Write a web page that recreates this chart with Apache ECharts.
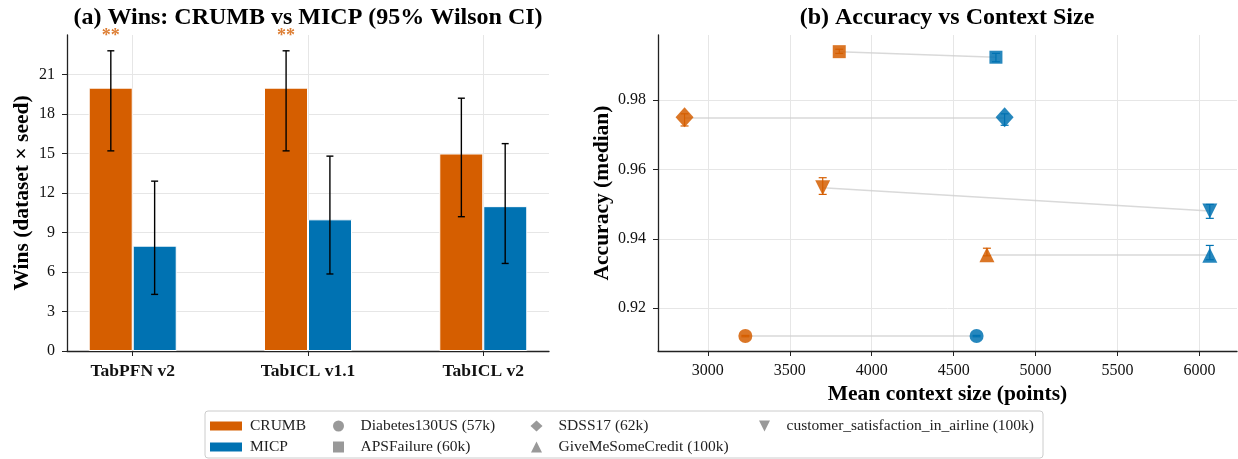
<!DOCTYPE html>
<html>
<head>
<meta charset="utf-8">
<script src="https://cdn.jsdelivr.net/npm/echarts@6/dist/echarts.min.js"></script>
<style>
  html, body { margin: 0; padding: 0; background: #fff; }
  #main { width: 1238px; height: 459px; }
</style>
</head>
<body>
<div id="main"></div>
<script>
// ---- panel (a): wins per model ----
var models = ['TabPFN v2', 'TabICL v1.1', 'TabICL v2'];
var crumbWins = [20, 20, 15];
var micpWins = [8, 10, 11];
var crumbLo = [15.2, 15.2, 10.2];
var crumbHi = [22.8, 22.8, 19.2];
var micpLo = [4.3, 5.85, 6.65];
var micpHi = [12.9, 14.8, 15.75];
var sigMarks = ['**', '**', ''];
var winTicks = [0, 3, 6, 9, 12, 15, 18, 21];

// ---- panel (b): accuracy vs context size ----
var datasets = ['Diabetes130US (57k)', 'APSFailure (60k)', 'SDSS17 (62k)', 'GiveMeSomeCredit (100k)', 'customer_satisfaction_in_airline (100k)'];
var crumbCtx = [3229, 3802, 2858, 4703, 3701];
var crumbAcc = [0.912, 0.9939, 0.975, 0.9354, 0.9547];
var crumbAccLo = [0.9118, 0.9934, 0.9725, 0.9351, 0.9528];
var crumbAccHi = [0.9122, 0.9946, 0.976, 0.9373, 0.9576];
var micpCtx = [4640, 4758, 4811, 6063, 6063];
var micpAcc = [0.912, 0.9923, 0.975, 0.9353, 0.948];
var micpAccLo = [0.9118, 0.991, 0.9727, 0.934, 0.9459];
var micpAccHi = [0.9122, 0.9934, 0.976, 0.9381, 0.9499];
var ctxTicks = [3000, 3500, 4000, 4500, 5000, 5500, 6000];
var accTicks = [0.92, 0.94, 0.96, 0.98];

var serif = "'Liberation Serif', 'Times New Roman', serif";
var orange = '#D55E00';
var blue = '#0072B2';
var gridColor = '#e6e6e6';
var axisColor = '#222';

// marker shapes, same order as datasets
var shapes = [
  'circle',
  'rect',
  'diamond',
  'triangle',
  'path://M0,0L10,0L5,10Z'
];
var legendIcons = [
  'circle',
  'path://M0,0L10,0L10,10L0,10Z',
  'path://M6,0L12,5.5L6,11L0,5.5Z',
  'path://M5,0L10,10L0,10Z',
  'path://M0,0L10,0L5,10Z'
];
var shapeSizes = [14, 13, [18, 20], 15, 15];

var chart = echarts.init(document.getElementById('main'));

// vertical error bar with caps; value = [x, lo, hi, colourIndex]
function errorBar(capHalf, lineWidth) {
  return function (params, api) {
    var x = api.value(0);
    var lo = api.coord([x, api.value(1)]);
    var hi = api.coord([x, api.value(2)]);
    var ci = api.value(3);
    var color = ci === 0 ? orange : (ci === 1 ? blue : '#000');
    var style = { stroke: color, lineWidth: lineWidth, fill: null };
    return {
      type: 'group',
      children: [
        { type: 'line', shape: { x1: lo[0], y1: lo[1], x2: hi[0], y2: hi[1] }, style: style },
        { type: 'line', shape: { x1: lo[0] - capHalf, y1: lo[1], x2: lo[0] + capHalf, y2: lo[1] }, style: style },
        { type: 'line', shape: { x1: hi[0] - capHalf, y1: hi[1], x2: hi[0] + capHalf, y2: hi[1] }, style: style }
      ]
    };
  };
}

var barErr = [];
var starData = [];
models.forEach(function (m, i) {
  barErr.push([i - 0.125, crumbLo[i], crumbHi[i], 2]);
  barErr.push([i + 0.125, micpLo[i], micpHi[i], 2]);
  if (sigMarks[i]) {
    starData.push({ value: [i - 0.125, 24], label: { formatter: sigMarks[i] } });
  }
});

var accErr = [];
var links = [];
var scatterSeries = datasets.map(function (name, i) {
  accErr.push([crumbCtx[i], crumbAccLo[i], crumbAccHi[i], 0]);
  accErr.push([micpCtx[i], micpAccLo[i], micpAccHi[i], 1]);
  links.push({ coords: [[crumbCtx[i], crumbAcc[i]], [micpCtx[i], micpAcc[i]]] });
  return {
    name: name,
    type: 'scatter',
    xAxisIndex: 1,
    yAxisIndex: 1,
    symbol: shapes[i],
    symbolSize: shapeSizes[i],
    itemStyle: { color: '#808080' },
    z: 3,
    data: [
      { value: [crumbCtx[i], crumbAcc[i]], itemStyle: { color: orange, opacity: 0.85 } },
      { value: [micpCtx[i], micpAcc[i]], itemStyle: { color: blue, opacity: 0.85 } }
    ]
  };
});

function legendCol(left, w, h, pad, items) {
  return {
    orient: 'vertical',
    left: left,
    top: 418,
    itemWidth: w,
    itemHeight: h,
    itemGap: 5,
    padding: 0,
    itemStyle: { borderWidth: 0 },
    textStyle: { fontFamily: serif, fontSize: 15.5, lineHeight: 16, color: '#222', padding: [0, 0, 0, pad] },
    data: items
  };
}

var axisNameStyle = { fontFamily: serif, fontSize: 21.5, fontWeight: 'bold', color: '#000' };

var option = {
  animation: false,
  textStyle: { fontFamily: serif },
  graphic: [
    {
      type: 'text', x: 308, y: 18,
      style: { text: '(a) Wins: CRUMB vs MICP (95% Wilson CI)', fontFamily: serif, fontSize: 24, fontWeight: 'bold', fill: '#000', align: 'center', verticalAlign: 'middle' }
    },
    {
      type: 'text', x: 947, y: 18,
      style: { text: '(b) Accuracy vs Context Size', fontFamily: serif, fontSize: 24, fontWeight: 'bold', fill: '#000', align: 'center', verticalAlign: 'middle' }
    },
    {
      type: 'rect', z: -1,
      shape: { x: 205, y: 411, width: 838, height: 47, r: 3 },
      style: { fill: '#fff', stroke: '#cccccc', lineWidth: 1 }
    }
  ],
  legend: [
    legendCol(210, 32, 9, 3, [{ name: 'CRUMB', icon: 'rect' }, { name: 'MICP', icon: 'rect' }]),
    legendCol(333, 34, 11, 0, [{ name: datasets[0], icon: legendIcons[0] }, { name: datasets[1], icon: legendIcons[1] }]),
    legendCol(530.5, 34, 11, 0, [{ name: datasets[2], icon: legendIcons[2] }, { name: datasets[3], icon: legendIcons[3] }]),
    legendCol(759, 34, 11, 0, [{ name: datasets[4], icon: legendIcons[4] }])
  ],
  grid: [
    { left: 67, top: 35, width: 482, height: 316 },
    { left: 658, top: 35, width: 579, height: 316 }
  ],
  xAxis: [
    {
      gridIndex: 0,
      type: 'value',
      min: -0.375,
      max: 2.375,
      axisLine: { show: true, onZero: false, lineStyle: { color: axisColor, width: 1.3 } },
      axisTick: { show: true, customValues: [0, 1, 2], length: 5, lineStyle: { color: axisColor } },
      axisLabel: {
        customValues: [0, 1, 2],
        formatter: function (v) { return models[Math.round(v)]; },
        fontFamily: serif, fontSize: 17.5, fontWeight: 'bold', color: '#111', margin: 11
      },
      splitLine: { show: true, lineStyle: { color: gridColor } }
    },
    {
      gridIndex: 1,
      type: 'value',
      min: 2696,
      max: 6229,
      name: 'Mean context size (points)',
      nameLocation: 'middle',
      nameGap: 32,
      nameTextStyle: axisNameStyle,
      axisLine: { show: true, onZero: false, lineStyle: { color: axisColor, width: 1.3 } },
      axisTick: { show: true, customValues: ctxTicks, length: 5, lineStyle: { color: axisColor } },
      axisLabel: {
        customValues: ctxTicks,
        formatter: function (v) { return String(v); },
        fontFamily: serif, fontSize: 16, color: '#111', margin: 12
      },
      splitLine: { show: true, lineStyle: { color: gridColor } }
    }
  ],
  yAxis: [
    {
      gridIndex: 0,
      type: 'value',
      min: 0,
      max: 24,
      name: 'Wins (dataset × seed)',
      nameLocation: 'middle',
      nameGap: 34,
      nameTextStyle: axisNameStyle,
      axisLine: { show: true, onZero: false, lineStyle: { color: axisColor, width: 1.3 } },
      axisTick: { show: true, customValues: winTicks, length: 5, lineStyle: { color: axisColor } },
      axisLabel: { customValues: winTicks, fontFamily: serif, fontSize: 16, color: '#111', margin: 12 },
      splitLine: { show: true, lineStyle: { color: gridColor } }
    },
    {
      gridIndex: 1,
      type: 'value',
      min: 0.9077,
      max: 0.9987,
      name: 'Accuracy (median)',
      nameLocation: 'middle',
      nameGap: 45,
      nameTextStyle: axisNameStyle,
      axisLine: { show: true, onZero: false, lineStyle: { color: axisColor, width: 1.3 } },
      axisTick: { show: true, customValues: accTicks, length: 5, lineStyle: { color: axisColor } },
      axisLabel: {
        customValues: accTicks,
        formatter: function (v) { return v.toFixed(2); },
        fontFamily: serif, fontSize: 16, color: '#111', margin: 12
      },
      splitLine: { show: true, lineStyle: { color: gridColor } }
    }
  ],
  series: [
    {
      name: 'CRUMB',
      type: 'bar',
      xAxisIndex: 0,
      yAxisIndex: 0,
      barWidth: 44,
      barGap: '0%',
      itemStyle: { color: orange, borderColor: '#fff', borderWidth: 1 },
      data: crumbWins.map(function (v, i) { return [i, v]; })
    },
    {
      name: 'MICP',
      type: 'bar',
      xAxisIndex: 0,
      yAxisIndex: 0,
      barWidth: 44,
      barGap: '0%',
      itemStyle: { color: blue, borderColor: '#fff', borderWidth: 1 },
      data: micpWins.map(function (v, i) { return [i, v]; })
    },
    {
      type: 'custom',
      xAxisIndex: 0,
      yAxisIndex: 0,
      renderItem: errorBar(3.5, 1.4),
      z: 5,
      data: barErr
    },
    {
      type: 'scatter',
      xAxisIndex: 0,
      yAxisIndex: 0,
      symbolSize: 0,
      clip: false,
      label: { show: true, position: 'inside', offset: [0, 1], color: orange, fontSize: 18, fontWeight: 'bold', fontFamily: serif },
      data: starData
    },
    {
      type: 'lines',
      coordinateSystem: 'cartesian2d',
      xAxisIndex: 1,
      yAxisIndex: 1,
      lineStyle: { color: '#cfcfcf', width: 1.5, opacity: 0.8 },
      z: 1,
      data: links
    }
  ].concat(scatterSeries).concat([
    {
      type: 'custom',
      xAxisIndex: 1,
      yAxisIndex: 1,
      renderItem: errorBar(4, 1.2),
      z: 6,
      data: accErr
    }
  ])
};

chart.setOption(option);
</script>
</body>
</html>
